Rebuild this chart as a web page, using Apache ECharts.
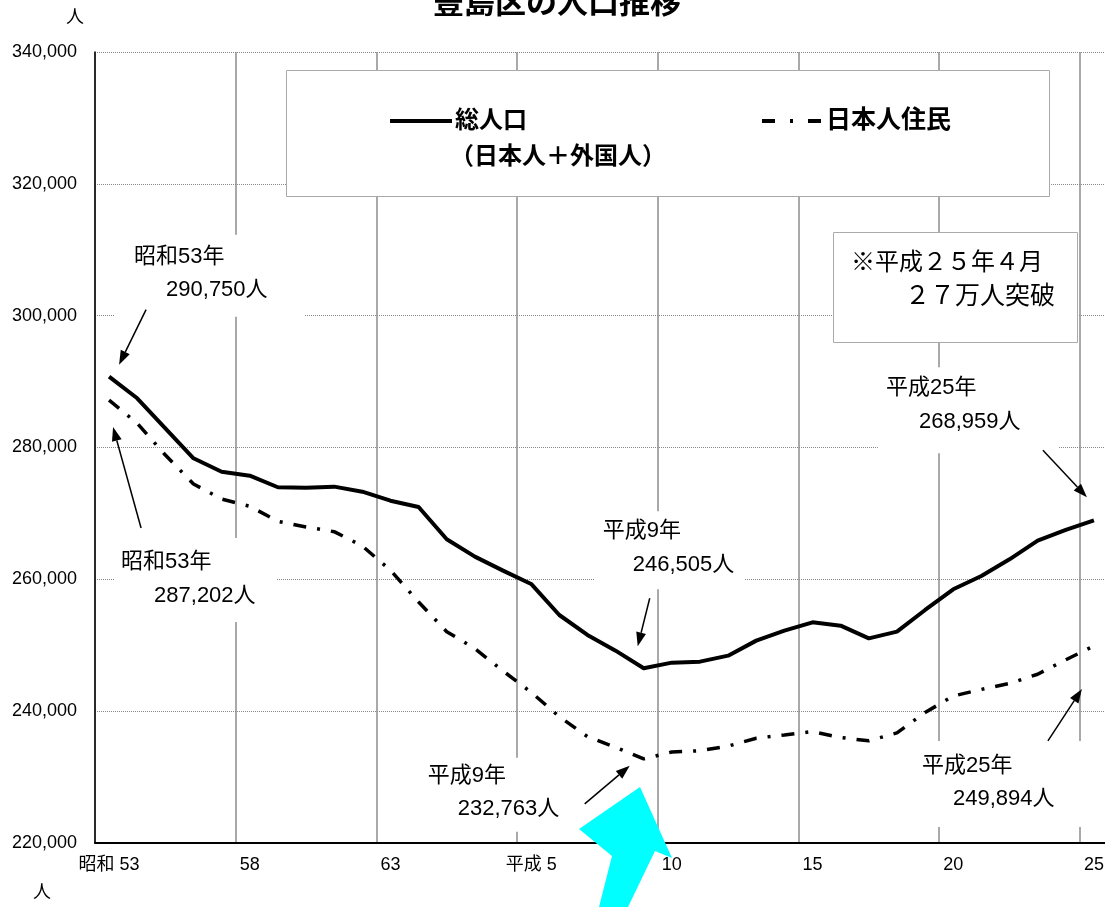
<!DOCTYPE html>
<html><head><meta charset="utf-8">
<script src="https://cdn.jsdelivr.net/npm/echarts@6/dist/echarts.min.js"></script>
<style>html,body{margin:0;padding:0;background:#fff}#c{width:1105px;height:907px}</style>
</head><body><div id="c"></div>
<script>
// ---- data ----
const categories = ['昭和 53','54','55','56','57','58','59','60','61','62','63',
  '平成 元','2','3','4','平成 5','6','7','8','9','10','11','12','13','14','15',
  '16','17','18','19','20','21','22','23','24','25'];
const totalPop = [290750,287470,282900,278360,276330,275730,273970,273910,274060,273300,
  271930,270980,266080,263440,261320,259300,254590,251560,249180,246505,
  247360,247510,248420,250700,252210,253480,252970,251050,252060,255350,
  258490,260510,263040,265870,267490,268959];
const japanesePop = [287202,283670,278860,274470,272190,271080,268800,267940,267230,265060,
  261380,256550,252060,249480,246100,242870,239170,236140,234520,232763,
  233810,234000,234700,235900,236400,236900,236000,235500,236700,239800,
  242300,243300,244200,245600,247800,249894];
const yMin = 220000, yMax = 340000, yStep = 20000;
const seriesNames = ['総人口', '日本人住民'];

const FONT = "'Liberation Sans', 'Noto Sans CJK JP', sans-serif";
const chart = echarts.init(document.getElementById('c'), null, {renderer: 'canvas'});
chart.setOption({
  animation: false,
  backgroundColor: '#fff',
  grid: {left: 95, top: 52, width: 1013, height: 791, containLabel: false, outerBoundsMode: 'none'},
  xAxis: {
    type: 'category', data: categories, boundaryGap: true,
    axisLine: {lineStyle: {color: '#000', width: 2}},
    axisTick: {show: false},
    axisLabel: {interval: 4, margin: 13, fontSize: 18, color: '#000', fontFamily: FONT},
    splitLine: {show: true, interval: 4, lineStyle: {color: '#8c8c8c', width: 1.5}}
  },
  yAxis: {
    type: 'value', min: yMin, max: yMax, interval: yStep,
    axisLine: {show: true, lineStyle: {color: '#000', width: 1.5}},
    axisTick: {show: false},
    axisLabel: {margin: 18, fontSize: 18, color: '#000', fontFamily: FONT,
      formatter: v => v.toLocaleString('en-US')},
    splitLine: {lineStyle: {color: '#888', width: 1, type: [1, 1]}}
  },
  series: [
    {name: seriesNames[0], type: 'line', data: totalPop, symbol: 'none', z: 5,
      lineStyle: {color: '#000', width: 4, join: 'round'}},
    {name: seriesNames[1], type: 'line', data: japanesePop, symbol: 'none', z: 5,
      lineStyle: {color: '#000', width: 3.5, type: [13, 11, 3, 11], cap: 'butt'}}
  ]
});

function px(i, v) { return chart.convertToPixel({gridIndex: 0}, [i, v]); }
function arrow(tail, tip, L, W) {
  const dx = tip[0] - tail[0], dy = tip[1] - tail[1];
  const len = Math.hypot(dx, dy), ux = dx / len, uy = dy / len;
  const bx = tip[0] - ux * L, by = tip[1] - uy * L;
  const nx = -uy * W / 2, ny = ux * W / 2;
  return [
    {type: 'line', z: 120, shape: {x1: tail[0], y1: tail[1], x2: bx, y2: by},
      style: {stroke: '#000', lineWidth: 1.5}},
    {type: 'polygon', z: 120, shape: {points: [tip, [bx + nx, by + ny], [bx - nx, by - ny]]},
      style: {fill: '#000'}}
  ];
}
const last = categories.length - 1;
const minIdx = 19;
const notes = [
  {p: px(0, totalPop[0]), box: [5, -142, 190, 82], t1: [25, -120], t2: [57, -87],
    s1: '昭和53年', s2: totalPop[0].toLocaleString('en-US') + '人', tail: [37, -67], tip: [10, -12]},
  {p: px(0, japanesePop[0]), box: [5, 138, 162, 84], t1: [12, 162], t2: [45, 196],
    s1: '昭和53年', s2: japanesePop[0].toLocaleString('en-US') + '人', tail: [32, 128], tip: [4, 27]},
  {p: px(minIdx, totalPop[minIdx]), box: [-49, -157, 150, 78], t1: [-41, -137], t2: [-11, -103],
    s1: '平成9年', s2: totalPop[minIdx].toLocaleString('en-US') + '人', tail: [6, -70], tip: [-6, -22]},
  {p: px(minIdx, japanesePop[minIdx]), box: [-224, -1, 155, 74], t1: [-216, 17], t2: [-186, 50],
    s1: '平成9年', s2: japanesePop[minIdx].toLocaleString('en-US') + '人', tail: [-59, 45], tip: [-14, 7]},
  {p: px(last, totalPop[last]), box: [-216, -153, 181, 86], t1: [-208, -132], t2: [-175, -98],
    s1: '平成25年', s2: totalPop[last].toLocaleString('en-US') + '人', tail: [-51, -70], tip: [-7, -23]},
  {p: px(last, japanesePop[last]), box: [-189, 95, 180, 86], t1: [-172, 120], t2: [-141, 153],
    s1: '平成25年', s2: japanesePop[last].toLocaleString('en-US') + '人', tail: [-46, 95], tip: [-12, 43]}
];
const g = [];
notes.forEach(n => {
  const [x, y] = n.p;
  g.push({type: 'rect', z: 50, shape: {x: x + n.box[0], y: y + n.box[1], width: n.box[2], height: n.box[3]},
    style: {fill: '#fff'}});
  g.push({type: 'text', z: 110, x: x + n.t1[0], y: y + n.t1[1],
    style: {text: n.s1, font: '22px ' + FONT, fill: '#000', textVerticalAlign: 'middle'}});
  g.push({type: 'text', z: 110, x: x + n.t2[0], y: y + n.t2[1],
    style: {text: n.s2, font: '22px ' + FONT, fill: '#000', textVerticalAlign: 'middle'}});
  arrow([x + n.tail[0], y + n.tail[1]], [x + n.tip[0], y + n.tip[1]], 14, 10).forEach(e => g.push(e));
});
g.push({type: 'text', z: 110, x: 557, y: 4, style: {text: '豊島区の人口推移',
  font: 'bold 31px ' + FONT, fill: '#000', textAlign: 'center', textVerticalAlign: 'middle'}});
g.push({type: 'text', z: 110, x: 75, y: 18, style: {text: '人', font: '18px ' + FONT,
  fill: '#000', textAlign: 'center', textVerticalAlign: 'middle'}});
g.push({type: 'text', z: 110, x: 42, y: 893, style: {text: '人', font: '18px ' + FONT,
  fill: '#000', textAlign: 'center', textVerticalAlign: 'middle'}});
// legend box
g.push({type: 'rect', z: 60, shape: {x: 286.5, y: 70.5, width: 763, height: 126},
  style: {fill: '#fff', stroke: '#aaa', lineWidth: 1}});
g.push({type: 'line', z: 110, shape: {x1: 390, y1: 121, x2: 452, y2: 121}, style: {stroke: '#000', lineWidth: 4}});
g.push({type: 'text', z: 110, x: 455, y: 121, style: {text: seriesNames[0], font: 'bold 24px ' + FONT,
  fill: '#000', textVerticalAlign: 'middle'}});
g.push({type: 'text', z: 110, x: 450, y: 157, style: {text: '（日本人＋外国人）', font: 'bold 24px ' + FONT,
  fill: '#000', textVerticalAlign: 'middle'}});
g.push({type: 'line', z: 110, shape: {x1: 762, y1: 121, x2: 822, y2: 121},
  style: {stroke: '#000', lineWidth: 4, lineDash: [13, 15, 3, 15]}});
g.push({type: 'text', z: 110, x: 826, y: 121, style: {text: seriesNames[1], font: 'bold 25px ' + FONT,
  fill: '#000', textVerticalAlign: 'middle'}});
// note box
g.push({type: 'rect', z: 60, shape: {x: 833.5, y: 232.5, width: 244, height: 110},
  style: {fill: '#fff', stroke: '#aaa', lineWidth: 1}});
g.push({type: 'text', z: 110, x: 851, y: 263, style: {text: '※平成２５年４月', font: '24px ' + FONT,
  fill: '#000', textVerticalAlign: 'middle'}});
g.push({type: 'text', z: 110, x: 905, y: 297, style: {text: '２７万人突破', font: '25px ' + FONT,
  fill: '#000', textVerticalAlign: 'middle'}});
// cyan arrow
g.push({type: 'polygon', z: 130, shape: {points: [[579, 829], [640, 787], [672, 858], [655, 851],
  [628, 907], [599, 907], [612, 856]]}, style: {fill: '#00ffff'}});
chart.setOption({graphic: {elements: g}});
</script></body></html>
